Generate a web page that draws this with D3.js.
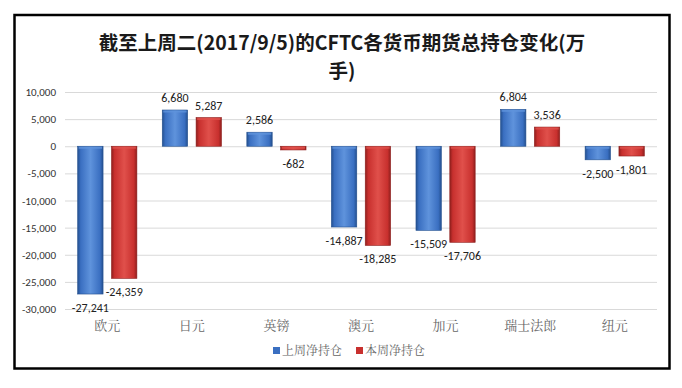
<!DOCTYPE html>
<html>
<head>
<meta charset="utf-8">
<script src="https://cdn.jsdelivr.net/npm/d3@7"></script>
<style>
  body { margin: 0; background: #fff; }
  svg { display: block; }
</style>
</head>
<body>
<div id="viz"></div>
<script>
var categories = ['欧元', '日元', '英镑', '澳元', '加元', '瑞士法郎', '纽元'];
var seriesNames = ['上周净持仓', '本周净持仓'];
var lastWeek = [-27241, 6680, 2586, -14887, -15509, 6804, -2500];
var thisWeek = [-24359, 5287, -682, -18285, -17706, 3536, -1801];
var yTicks = [10000, 5000, 0, -5000, -10000, -15000, -20000, -25000, -30000];
var titleLines = ['截至上周二(2017/9/5)的CFTC各货币期货总持仓变化(万', '手)'];

var width = 682,
    height = 388;

var colors = ['#3a6fc1', '#c8302e'];
var darkColors = ['#24508f', '#8f1f1d'];
var lightColors = ['#5f93dc', '#e0504b'];

// hyphen minus like the original, not the unicode minus sign
var fmt = function(v) { return d3.format(',')(v).replace('\u2212', '-'); };

var svg = d3.select('#viz').append('svg')
    .attr('width', width)
    .attr('height', height)
    .style('font-family', 'Calibri, Carlito, "Liberation Sans", "Noto Sans", sans-serif');

// bevel-ish gradients for the bars
var defs = svg.append('defs');
colors.forEach(function(c, i) {
    var g = defs.append('linearGradient')
        .attr('id', 'grad' + i)
        .attr('x1', '0%').attr('x2', '100%')
        .attr('y1', '0%').attr('y2', '0%');
    g.append('stop').attr('offset', '0%').attr('stop-color', darkColors[i]);
    g.append('stop').attr('offset', '12%').attr('stop-color', c);
    g.append('stop').attr('offset', '50%').attr('stop-color', lightColors[i]);
    g.append('stop').attr('offset', '88%').attr('stop-color', c);
    g.append('stop').attr('offset', '100%').attr('stop-color', darkColors[i]);
});

// frame
svg.append('rect')
    .attr('x', 14.5).attr('y', 15)
    .attr('width', 655).attr('height', 353.5)
    .attr('fill', '#fff')
    .attr('stroke', '#000')
    .attr('stroke-width', 2.5);

// title
svg.append('g').selectAll('text').data(titleLines)
    .enter().append('text')
    .attr('x', 342)
    .attr('y', function(d, i) { return 50 + i * 28; })
    .attr('text-anchor', 'middle')
    .attr('font-size', 19.5)
    .attr('font-weight', 'bold')
    .attr('fill', '#1a1a1a')
    .style('font-family', '"Noto Sans CJK SC", "Noto Sans", sans-serif')
    .text(function(d) { return d; });

var yScale = d3.scaleLinear()
    .domain([-30000, 10000])
    .range([309, 92]);

var x0 = d3.scaleBand()
    .domain(categories)
    .range([65, 657])
    .paddingInner(0.3)
    .paddingOuter(0.15);

var x1 = d3.scaleBand()
    .domain(seriesNames)
    .range([0, x0.bandwidth()])
    .paddingInner(0.25);

// gridlines
svg.append('g').selectAll('line').data(yTicks)
    .enter().append('line')
    .attr('x1', 65).attr('x2', 657)
    .attr('y1', function(d) { return yScale(d) + 0.5; })
    .attr('y2', function(d) { return yScale(d) + 0.5; })
    .attr('stroke', '#d9d9d9')
    .attr('stroke-width', 1);

// y tick labels
svg.append('g').selectAll('text').data(yTicks)
    .enter().append('text')
    .attr('x', 56)
    .attr('y', function(d) { return yScale(d) + 4; })
    .attr('text-anchor', 'end')
    .attr('font-size', 11)
    .attr('fill', '#333')
    .text(function(d) { return fmt(d); });

var rows = categories.map(function(c, i) {
    return { cat: c, values: [lastWeek[i], thisWeek[i]] };
});

var groups = svg.append('g').selectAll('g').data(rows)
    .enter().append('g')
    .attr('transform', function(d) { return 'translate(' + x0(d.cat) + ',0)'; });

var bars = groups.selectAll('g').data(function(d) {
        return d.values.map(function(v, i) { return { v: v, s: i }; });
    })
    .enter().append('g');

bars.append('rect')
    .attr('x', function(d) { return x1(seriesNames[d.s]); })
    .attr('y', function(d) { return yScale(Math.max(0, d.v)); })
    .attr('width', x1.bandwidth())
    .attr('height', function(d) { return Math.abs(yScale(d.v) - yScale(0)); })
    .attr('fill', function(d) { return 'url(#grad' + d.s + ')'; })
    .attr('stroke', function(d) { return darkColors[d.s]; })
    .attr('stroke-width', 0.6);

// light top edge for the bevel
bars.append('rect')
    .attr('x', function(d) { return x1(seriesNames[d.s]) + 1; })
    .attr('y', function(d) { return yScale(Math.max(0, d.v)) + 0.5; })
    .attr('width', x1.bandwidth() - 2)
    .attr('height', function(d) { return Math.min(2, Math.abs(yScale(d.v) - yScale(0)) - 1); })
    .attr('fill', function(d) { return lightColors[d.s]; })
    .attr('opacity', 0.8);

// value labels
bars.append('text')
    .attr('x', function(d) { return x1(seriesNames[d.s]) + x1.bandwidth() / 2; })
    .attr('y', function(d) {
        return d.v >= 0 ? yScale(d.v) - 8 : yScale(d.v) + 18;
    })
    .attr('text-anchor', 'middle')
    .attr('font-size', 12)
    .attr('fill', '#222')
    .text(function(d) { return fmt(d.v); });

// category labels
svg.append('g').selectAll('text').data(categories)
    .enter().append('text')
    .attr('x', function(d) { return x0(d) + x0.bandwidth() / 2; })
    .attr('y', 330)
    .attr('text-anchor', 'middle')
    .attr('font-size', 13)
    .attr('fill', '#666')
    .style('font-family', '"Noto Serif CJK SC", "Noto Sans CJK SC", serif')
    .text(function(d) { return d; });

// legend
var legend = svg.append('g').selectAll('g').data(seriesNames)
    .enter().append('g')
    .attr('transform', function(d, i) { return 'translate(' + (273 + i * 83) + ',351)'; });

legend.append('rect')
    .attr('x', 0).attr('y', -4)
    .attr('width', 7).attr('height', 7)
    .attr('fill', function(d, i) { return colors[i]; });

legend.append('text')
    .attr('x', 9)
    .attr('y', 4)
    .attr('font-size', 12)
    .attr('fill', '#666')
    .style('font-family', '"Noto Serif CJK SC", "Noto Sans CJK SC", serif')
    .text(function(d) { return d; });
</script>
</body>
</html>
